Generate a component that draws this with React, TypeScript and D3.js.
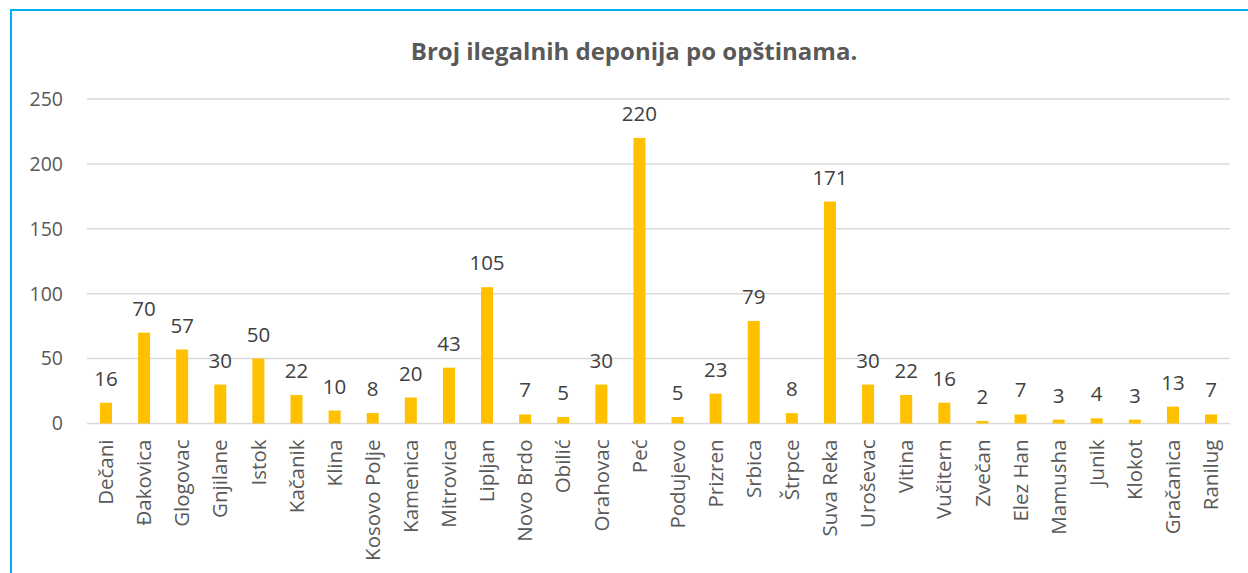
import { useEffect, useRef } from 'react';
import * as d3 from 'd3';

const municipalities = [
  'Dečani', 'Đakovica', 'Glogovac', 'Gnjilane', 'Istok', 'Kačanik', 'Klina', 'Kosovo Polje',
  'Kamenica', 'Mitrovica', 'Lipljan', 'Novo Brdo', 'Obilić', 'Orahovac', 'Peć', 'Podujevo',
  'Prizren', 'Srbica', 'Štrpce', 'Suva Reka', 'Uroševac', 'Vitina', 'Vučitern', 'Zvečan',
  'Elez Han', 'Mamusha', 'Junik', 'Klokot', 'Gračanica', 'Ranilug',
];
const dumpCounts = [
  16, 70, 57, 30, 50, 22, 10, 8, 20, 43, 105, 7, 5, 30, 220, 5, 23, 79, 8, 171, 30, 22, 16, 2,
  7, 3, 4, 3, 13, 7,
];
const yTicks = [0, 50, 100, 150, 200, 250];
const chartTitle = 'Broj ilegalnih deponija po opštinama.';

const FONT = "'Open Sans', 'Noto Sans', sans-serif";

function App() {
  const svgRef = useRef<SVGSVGElement>(null);

  useEffect(() => {
    const svg = d3.select(svgRef.current);
    svg.selectAll('*').remove();

    const left = 87,
      right = 1230,
      top = 99,
      bottom = 423.5;

    // chart frame (extends off the page right and bottom)
    svg
      .append('rect')
      .attr('x', 11)
      .attr('y', 10)
      .attr('width', 1260)
      .attr('height', 600)
      .attr('fill', 'white')
      .attr('stroke', '#00B0F0')
      .attr('stroke-width', 2);

    svg
      .append('text')
      .attr('x', 634)
      .attr('y', 60)
      .attr('text-anchor', 'middle')
      .attr('font-family', FONT)
      .attr('font-weight', 'bold')
      .attr('font-size', 24)
      .attr('fill', '#595959')
      .text(chartTitle);

    const x = d3.scaleBand().domain(municipalities).range([left, right]).paddingInner(0.685).paddingOuter(0.34);
    const y = d3.scaleLinear().domain([0, 250]).range([bottom, top]);

    const grid = svg.append('g');
    grid
      .selectAll('line')
      .data(yTicks)
      .join('line')
      .attr('x1', left)
      .attr('x2', right)
      .attr('y1', (d) => y(d))
      .attr('y2', (d) => y(d))
      .attr('stroke', '#d9d9d9')
      .attr('stroke-width', 1.5);

    grid
      .selectAll('text')
      .data(yTicks)
      .join('text')
      .attr('x', 63)
      .attr('y', (d) => y(d))
      .attr('dy', '0.35em')
      .attr('text-anchor', 'end')
      .attr('font-family', FONT)
      .attr('font-size', 19.5)
      .attr('fill', '#595959')
      .text((d) => d);

    const bars = svg.append('g');
    bars
      .selectAll('rect')
      .data(dumpCounts)
      .join('rect')
      .attr('x', (_, i) => x(municipalities[i])!)
      .attr('y', (d) => y(d))
      .attr('width', x.bandwidth())
      .attr('height', (d) => y(0) - y(d))
      .attr('fill', '#FFC000');

    bars
      .selectAll('text')
      .data(dumpCounts)
      .join('text')
      .attr('x', (_, i) => x(municipalities[i])! + x.bandwidth() / 2)
      .attr('y', (d) => y(d) - 17)
      .attr('text-anchor', 'middle')
      .attr('font-family', FONT)
      .attr('font-size', 20.5)
      .attr('fill', '#404040')
      .text((d) => d);

    svg
      .append('g')
      .selectAll('text')
      .data(municipalities)
      .join('text')
      .attr('transform', (d) => `translate(${x(d)! + x.bandwidth() / 2},${bottom + 16}) rotate(-90)`)
      .attr('dy', '0.35em')
      .attr('text-anchor', 'end')
      .attr('font-family', FONT)
      .attr('font-size', 20.5)
      .attr('fill', '#595959')
      .text((d) => d);
  }, []);

  return <svg ref={svgRef} width={1248} height={573} style={{ position: 'absolute', left: 0, top: 0 }} />;
}

export default App;
